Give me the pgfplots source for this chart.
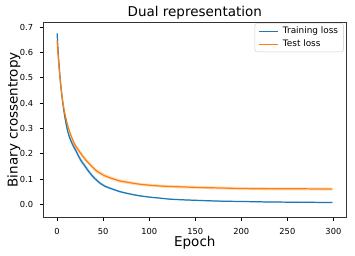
\documentclass[border=0pt]{standalone}
\usepackage{pgfplots}
\usepackage{pgfplotstable}
\pgfplotsset{compat=1.18}
\usepgfplotslibrary{fillbetween}
\usepackage{fontspec}
\setmainfont{DejaVu Sans}
\definecolor{mblue}{HTML}{1F77B4}
\definecolor{morange}{HTML}{FF7F0E}
\pgfplotstableread{
x y e
0 0.675 0.010
1 0.610 0.010
2 0.555 0.010
3 0.510 0.010
4 0.470 0.010
5 0.435 0.010
6 0.405 0.010
7 0.378 0.010
8 0.354 0.010
9 0.333 0.010
10 0.313 0.010
12 0.282 0.010
14 0.260 0.010
16 0.243 0.010
18 0.228 0.010
20 0.215 0.010
23 0.193 0.010
26 0.173 0.010
30 0.153 0.009
33 0.137 0.009
36 0.123 0.008
40 0.106 0.007
46 0.086 0.006
52 0.072 0.005
60 0.061 0.004
68 0.051 0.004
76 0.044 0.003
84 0.038 0.003
92 0.033 0.003
101 0.029 0.002
112 0.025 0.002
123 0.021 0.002
140 0.018 0.002
155 0.016 0.002
180 0.013 0.002
200 0.012 0.002
230 0.010 0.002
260 0.009 0.002
299 0.008 0.002
}\train
\pgfplotstableread{
x y e
0 0.646 0.009
2 0.545 0.009
4 0.468 0.009
6 0.410 0.009
8 0.366 0.009
10 0.333 0.009
12 0.305 0.009
14 0.283 0.009
16 0.263 0.009
18 0.246 0.009
20 0.232 0.009
24 0.210 0.009
28 0.190 0.009
32 0.172 0.009
36 0.157 0.009
42 0.135 0.008
46 0.125 0.008
52 0.113 0.007
60 0.102 0.007
68 0.093 0.007
76 0.088 0.007
84 0.083 0.006
92 0.079 0.006
101 0.076 0.006
112 0.073 0.006
123 0.071 0.006
140 0.069 0.006
155 0.067 0.006
180 0.065 0.006
200 0.063 0.006
230 0.062 0.006
260 0.062 0.006
299 0.061 0.006
}\test
\begin{document}
\begin{tikzpicture}
\begin{axis}[
  scale only axis, width=303pt, height=195.7pt,
  at={(0,0)}, anchor=south west,
  xmin=-15, xmax=314, ymin=-0.052, ymax=0.72,
  xtick={0,50,100,150,200,250,300},
  ytick={0,0.1,0.2,0.3,0.4,0.5,0.6,0.7},
  /pgf/number format/assume math mode=true,
  tick align=outside, major tick length=3.5pt,
  tick style={black, line width=0.66pt},
  xtick pos=bottom, ytick pos=left,
  axis line style={black!80, line width=0.66pt},
  every x tick label/.style={font=\fontsize{8.3}{10}\selectfont, anchor=base, inner sep=0pt, yshift=-13.3pt},
  every y tick label/.style={font=\fontsize{8.3}{10}\selectfont, anchor=east, inner sep=0pt, xshift=-6.5pt},
  yticklabel={\pgfmathprintnumber[fixed,fixed zerofill,precision=1]{\tick}},
  title={Dual representation},
  every axis title/.style={font=\fontsize{13.5}{15}\selectfont, at={(axis description cs:0.5,1)}, anchor=base, inner sep=0pt, yshift=5.3pt},
  xlabel={Epoch},
  every axis x label/.style={font=\fontsize{13.5}{15}\selectfont, at={(axis description cs:0.5,0)}, anchor=base, inner sep=0pt, yshift=-28.5pt},
  ylabel={Binary crossentropy},
  every axis y label/.style={font=\fontsize{13.5}{15}\selectfont, at={([xshift=-25.8pt]axis description cs:0,0.5)}, rotate=90, anchor=base, inner sep=0pt},
  legend style={at={(axis description cs:1,1)}, anchor=north east, xshift=-2.7pt, yshift=-1.3pt,
    font=\fontsize{8.9}{10}\selectfont, draw=black!20, rounded corners=2pt, fill=white, fill opacity=0.8, text opacity=1, draw opacity=1,
    row sep=0pt, column sep=2.2pt, inner xsep=3.3pt, inner ysep=1.2pt,
    nodes={inner sep=2pt, text height=6.8pt, text depth=2.2pt}},
  legend cell align=left,
  legend image code/.code={\draw[#1, line width=1.23pt, draw opacity=1] (0pt,0pt) -- (19.3pt,0pt);},
]
\addplot[name path=tu, draw=none, forget plot] table[x=x, y expr=\thisrow{y}+\thisrow{e}] {\train};
\addplot[name path=tl, draw=none, forget plot] table[x=x, y expr=\thisrow{y}-\thisrow{e}] {\train};
\addplot[mblue, fill opacity=0.25, forget plot] fill between[of=tu and tl];
\addplot[name path=vu, draw=none, forget plot] table[x=x, y expr=\thisrow{y}+\thisrow{e}] {\test};
\addplot[name path=vl, draw=none, forget plot] table[x=x, y expr=\thisrow{y}-\thisrow{e}] {\test};
\addplot[morange, fill opacity=0.25, forget plot] fill between[of=vu and vl];
\addplot[mblue, line width=1.23pt, smooth, tension=0.3] table[x=x, y=y] {\train};
\addlegendentry{Training loss}
\addplot[morange, line width=1.23pt, smooth, tension=0.3] table[x=x, y=y] {\test};
\addlegendentry{Test loss}
\end{axis}
\pgfresetboundingbox
\path[use as bounding box] (-43.3pt,-38.3pt) rectangle (311.7pt,217.7pt);
\end{tikzpicture}
\end{document}
